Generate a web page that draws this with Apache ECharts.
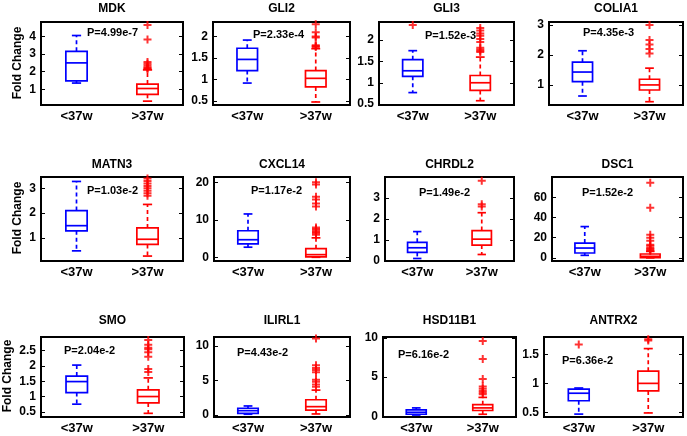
<!DOCTYPE html>
<html><head><meta charset="utf-8">
<script src="https://cdn.jsdelivr.net/npm/echarts@6/dist/echarts.min.js"></script>
<style>html,body{margin:0;padding:0;background:#fff}#c{width:687px;height:436px}</style>
</head><body><div id="c"></div>
<script>
const groups = ['<37w', '>37w'];
const genes = ['MDK','GLI2','GLI3','COLIA1','MATN3','CXCL14','CHRDL2','DSC1','SMO','ILIRL1','HSD11B1','ANTRX2'];
const pLabels = ['P=4.99e-7','P=2.33e-4','P=1.52e-3','P=4.35e-3','P=1.03e-2','P=1.17e-2','P=1.49e-2','P=1.52e-2','P=2.04e-2','P=4.43e-2','P=6.16e-2','P=6.36e-2'];
const yLabel = 'Fold Change';

// box stats per group: [lower whisker, Q1, median, Q3, upper whisker]
const mdkStats    = [[1.35,1.48,2.5,3.16,4.06],[0.32,0.71,1.04,1.29,2.1]];
const gli2Stats   = [[0.92,1.21,1.47,1.73,1.92],[0.48,0.83,1.03,1.21,1.72]];
const gli3Stats   = [[0.77,1.15,1.28,1.54,1.75],[0.58,0.82,1.0,1.17,1.6]];
const colia1Stats = [[0.63,1.11,1.43,1.76,2.14],[0.44,0.83,1.0,1.19,1.56]];
const matn3Stats  = [[0.47,1.28,1.49,2.1,3.28],[0.26,0.73,0.94,1.4,2.35]];
const cxcl14Stats = [[2.7,3.6,4.7,7.1,11.6],[0.0,0.1,0.7,2.3,5.2]];
const chrdl2Stats = [[0.12,0.41,0.63,0.89,1.4],[0.31,0.76,1.04,1.45,2.3]];
const dsc1Stats   = [[2.6,4.9,9.8,14.7,31],[0.1,0.3,1.6,3.9,6.5]];
const smoStats    = [[0.75,1.13,1.49,1.67,2.03],[0.45,0.79,1.0,1.22,1.61]];
const ilirl1Stats = [[0.1,0.24,0.62,0.97,1.3],[0.14,0.7,1.2,2.2,3.6]];
const hsd11b1Stats= [[0.15,0.25,0.5,0.8,1.06],[0.25,0.73,1.06,1.47,2.4]];
const antrx2Stats = [[0.47,0.7,0.83,0.9,0.92],[0.49,0.87,1.0,1.21,1.6]];

// outliers: [group index, value]
const mdkOut    = [[1,2.15],[1,2.2],[1,2.25],[1,2.35],[1,2.45],[1,2.55],[1,3.83],[1,4.66]];
const gli2Out   = [[1,1.76],[1,1.78],[1,1.8],[1,1.98],[1,2.0],[1,2.1],[1,2.29]];
const gli3Out   = [[0,2.35],[1,1.72],[1,1.75],[1,1.78],[1,1.82],[1,1.95],[1,2.02],[1,2.1],[1,2.15],[1,2.22],[1,2.28]];
const colia1Out = [[1,2.05],[1,2.2],[1,2.35],[1,2.5],[1,3.0]];
const matn3Out  = [[1,2.7],[1,2.8],[1,2.9],[1,3.0],[1,3.1],[1,3.2],[1,3.3],[1,3.4]];
const cxcl14Out = [[1,6.0],[1,6.4],[1,6.8],[1,7.2],[1,7.6],[1,8.0],[1,13.6],[1,14.4],[1,15.5],[1,16.2],[1,19.5],[1,20.1]];
const chrdl2Out = [[1,2.6],[1,2.7],[1,3.82]];
const dsc1Out   = [[1,7],[1,8],[1,9],[1,10],[1,12],[1,13],[1,17],[1,20],[1,23],[1,49.7],[1,74.3]];
const smoOut    = [[1,1.8],[1,1.9],[1,2.3],[1,2.45],[1,2.55],[1,2.6],[1,2.7],[1,2.85]];
const ilirl1Out = [[1,4.1],[1,4.4],[1,4.8],[1,5.1],[1,6.2],[1,6.5],[1,6.8],[1,7.2],[1,11.1]];
const hsd11b1Out= [[1,2.8],[1,3.0],[1,3.2],[1,3.5],[1,3.8],[1,4.75],[1,7.3],[1,9.6]];
const antrx2Out = [[0,1.67],[1,1.74],[1,1.76]];

// y axis extents and tick labels
const yRanges = [[0.1,4.83],[0.41,2.34],[0.48,2.42],[0.33,3.1],[0.06,3.46],[-1,21.5],[0,4.0],[-3,80],[0.33,2.95],[-0.3,11.3],[-0.1,10.1],[0.42,1.8]];
const yTicks = [[1,2,3,4],[0.5,1,1.5,2],[0.5,1,1.5,2],[1,2,3],[1,2,3],[0,10,20],[0,1,2,3],[0,20,40,60],[0.5,1,1.5,2,2.5],[0,5,10],[0,5,10],[0.5,1,1.5]];

const allStats = [mdkStats,gli2Stats,gli3Stats,colia1Stats,matn3Stats,cxcl14Stats,chrdl2Stats,dsc1Stats,smoStats,ilirl1Stats,hsd11b1Stats,antrx2Stats];
const allOut = [mdkOut,gli2Out,gli3Out,colia1Out,matn3Out,cxcl14Out,chrdl2Out,dsc1Out,smoOut,ilirl1Out,hsd11b1Out,antrx2Out];

// layout (pixels)
const boxes = [
 [41,22,142,83],[213,22,137,83],[379,22,135,83],[549,22,134,83],
 [41,177,142,84],[214,177,136,84],[385,177,129,84],[552,177,131,84],
 [41,337,143,80],[214,337,136,80],[383,337,133,80],[544,337,139,80]
];
const titleY = [9,9,9,9,165,165,165,165,321,321,321,321];
const pPos = [[87,33],[253,35],[425,36],[583,33],[87,191],[251,191],[419,193],[582,193],[64,351],[237,353],[398,355],[562,361]];
const ylabPos = [[18,63],[18,218],[8,376]];

const FONT = '"Liberation Sans", Arial, sans-serif';
const COLORS = ['#0000ff', '#ff0000'];

function renderBox(params, api) {
  const g = api.value(0);
  const v = [api.value(1), api.value(2), api.value(3), api.value(4), api.value(5)];
  const band = api.size([1, 0])[0];
  const bw = band * 0.3, cw = band * 0.13;
  const cx = api.coord([g, v[0]])[0];
  const y = v.map(val => api.coord([g, val])[1]);
  const col = COLORS[g];
  const solid = {stroke: col, lineWidth: 1.7, fill: null};
  const dashed = {stroke: col, lineWidth: 1.7, lineDash: [4, 3], fill: null};
  return {type: 'group', children: [
    {type: 'line', shape: {x1: cx, y1: y[3], x2: cx, y2: y[4]}, style: dashed},
    {type: 'line', shape: {x1: cx, y1: y[1], x2: cx, y2: y[0]}, style: dashed},
    {type: 'line', shape: {x1: cx - cw/2, y1: y[4], x2: cx + cw/2, y2: y[4]}, style: solid},
    {type: 'line', shape: {x1: cx - cw/2, y1: y[0], x2: cx + cw/2, y2: y[0]}, style: solid},
    {type: 'rect', shape: {x: cx - bw/2, y: y[3], width: bw, height: y[1] - y[3]}, style: solid},
    {type: 'line', shape: {x1: cx - bw/2, y1: y[2], x2: cx + bw/2, y2: y[2]}, style: solid}
  ]};
}

const grid = [], xAxis = [], yAxis = [], series = [], graphic = [];
genes.forEach((gname, i) => {
  const b = boxes[i];
  grid.push({left: b[0], top: b[1], width: b[2], height: b[3], show: true, borderColor: '#000', borderWidth: 2, backgroundColor: 'transparent'});
  xAxis.push({type: 'category', gridIndex: i, data: groups, axisLine: {show: false}, axisTick: {show: false},
    axisLabel: {fontFamily: FONT, fontWeight: 'bold', fontSize: 13, color: '#000', margin: 5}});
  const common = {type: 'value', gridIndex: i, min: yRanges[i][0], max: yRanges[i][1], splitLine: {show: false}, axisLine: {show: false}};
  yAxis.push(Object.assign({}, common, {position: 'left',
    axisTick: {show: true, inside: true, length: 4, lineStyle: {color: '#000', width: 1}, customValues: yTicks[i]},
    axisLabel: {fontFamily: FONT, fontWeight: 'bold', fontSize: 12, color: '#000', margin: 5, customValues: yTicks[i]}}));
  yAxis.push(Object.assign({}, common, {position: 'right',
    axisTick: {show: true, inside: true, length: 4, lineStyle: {color: '#000', width: 1}, customValues: yTicks[i]},
    axisLabel: {show: false}}));
  series.push({type: 'custom', xAxisIndex: i, yAxisIndex: 2*i, renderItem: renderBox,
    data: allStats[i].map((s, g) => [g].concat(s)), encode: {x: 0, y: [1,2,3,4,5]}, silent: true, z: 2});
  series.push({type: 'scatter', xAxisIndex: i, yAxisIndex: 2*i, data: allOut[i],
    symbol: 'path://M-1.25,-5H1.25V-1.25H5V1.25H1.25V5H-1.25V1.25H-5V-1.25H-1.25Z', symbolSize: 8,
    itemStyle: {color: '#ff0000'}, silent: true, z: 3});
  graphic.push({type: 'text', x: b[0] + b[2]/2, y: titleY[i],
    style: {text: gname, font: 'bold 12px ' + FONT, fill: '#000', align: 'center', verticalAlign: 'middle'}});
  graphic.push({type: 'text', x: pPos[i][0], y: pPos[i][1],
    style: {text: pLabels[i], font: 'bold 11px ' + FONT, fill: '#000', align: 'left', verticalAlign: 'middle'}, z: 10});
});
ylabPos.forEach(p => {
  graphic.push({type: 'text', x: p[0], y: p[1], rotation: Math.PI/2,
    style: {text: yLabel, font: 'bold 12px ' + FONT, fill: '#000', align: 'center', verticalAlign: 'middle'}});
});

const chart = echarts.init(document.getElementById('c'), null, {renderer: 'canvas'});
chart.setOption({animation: false, backgroundColor: '#fff', grid, xAxis, yAxis, series, graphic});
</script></body></html>
